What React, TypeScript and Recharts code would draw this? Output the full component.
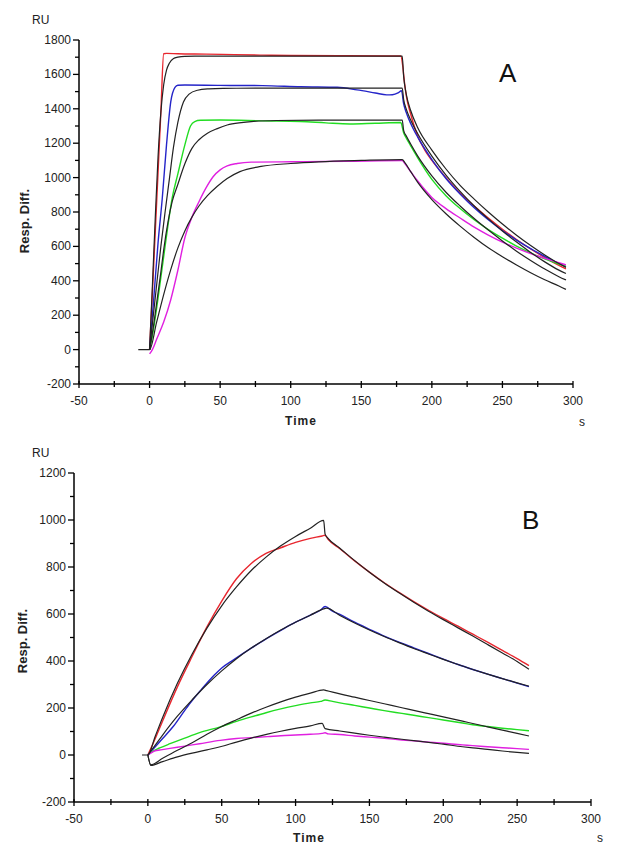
import { LineChart, Line, XAxis, YAxis } from 'recharts';

// panel A: [time s, response RU]
const aRed = [[0, 0], [2, 330], [4, 680], [6, 1030], [8, 1380], [10, 1720], [12, 1722], [20, 1720], [40, 1718], [60, 1715], [80, 1712], [100, 1710], [140, 1708], [178, 1707], [179.5, 1640], [180.5, 1560], [182, 1470], [185, 1370], [190, 1240], [195, 1160], [200, 1100], [210, 1000], [220, 910], [230, 835], [240, 765], [250, 700], [260, 640], [270, 585], [280, 535], [290, 490], [295, 470]];
const aRedFit = [[0, 0], [2, 370], [4, 760], [6, 1120], [8, 1380], [10, 1540], [12, 1625], [14, 1665], [17, 1692], [20, 1700], [25, 1705], [40, 1706], [100, 1706], [179, 1706], [180, 1590], [182, 1480], [185, 1390], [190, 1290], [200, 1160], [210, 1050], [220, 955], [230, 875], [240, 800], [250, 730], [260, 665], [270, 605], [280, 550], [290, 500], [295, 478]];
const aBlue = [[0, 0], [3, 300], [6, 620], [9, 880], [12, 1190], [15, 1440], [18, 1525], [20, 1537], [25, 1538], [50, 1536], [80, 1535], [107, 1528], [133, 1525], [147, 1510], [160, 1492], [168, 1481], [172, 1482], [176, 1492], [178.5, 1505], [180, 1430], [182, 1375], [185, 1315], [190, 1235], [200, 1105], [210, 995], [220, 905], [230, 825], [240, 755], [250, 692], [260, 637], [270, 587], [280, 542], [290, 500], [295, 482]];
const aBlueFit = [[0, 0], [4, 300], [8, 600], [11, 800], [14, 990], [17, 1180], [20, 1320], [24, 1440], [28, 1485], [34, 1508], [42, 1516], [52, 1519], [80, 1520], [179, 1520], [180, 1455], [182, 1395], [185, 1335], [190, 1255], [200, 1125], [210, 1015], [220, 920], [230, 835], [240, 760], [250, 690], [260, 625], [270, 565], [280, 510], [290, 462], [295, 442]];
const aGreen = [[0, 0], [2, 80], [5, 240], [8, 420], [10, 540], [13, 720], [16, 880], [20, 1020], [25, 1190], [29, 1300], [32, 1326], [36, 1333], [50, 1335], [80, 1330], [107, 1326], [125, 1318], [142, 1312], [160, 1316], [178, 1320], [180, 1260], [182, 1228], [185, 1185], [190, 1115], [200, 990], [210, 895], [220, 820], [230, 755], [240, 698], [250, 648], [260, 602], [270, 562], [280, 527], [290, 497], [295, 484]];
const aGreenFit = [[0, 0], [3, 150], [5, 270], [8, 450], [10, 580], [13, 740], [16, 860], [20, 960], [25, 1080], [30, 1170], [35, 1220], [41, 1258], [48, 1285], [55, 1306], [65, 1320], [72, 1326], [90, 1332], [120, 1334], [179, 1335], [180, 1275], [182, 1240], [185, 1195], [190, 1125], [200, 1010], [210, 915], [220, 835], [230, 762], [240, 695], [250, 632], [260, 572], [270, 518], [280, 468], [290, 424], [295, 405]];
const aMagenta = [[0, -25], [2, 0], [5, 60], [10, 160], [15, 290], [20, 460], [25, 650], [30, 770], [35, 860], [40, 940], [45, 1005], [50, 1045], [55, 1068], [62, 1082], [72, 1090], [100, 1092], [140, 1095], [179, 1099], [181, 1080], [185, 1035], [190, 980], [200, 885], [210, 820], [220, 765], [230, 712], [240, 666], [250, 625], [260, 590], [270, 558], [280, 530], [290, 505], [295, 493]];
const aMagentaFit = [[-8, 0], [0, 0], [5, 160], [10, 320], [15, 465], [20, 590], [25, 690], [30, 770], [35, 835], [41, 895], [48, 950], [55, 995], [64, 1035], [79, 1065], [100, 1082], [120, 1092], [150, 1100], [179, 1105], [181, 1085], [185, 1035], [190, 972], [200, 872], [210, 790], [220, 718], [230, 652], [240, 592], [250, 540], [260, 492], [270, 447], [280, 406], [290, 370], [295, 350]];

// panel B
const bRed = [[0, 0], [5, 70], [10, 145], [20, 290], [30, 420], [40, 545], [50, 655], [60, 750], [70, 815], [80, 858], [90, 882], [100, 905], [110, 922], [118, 932], [120, 935], [122, 918], [130, 878], [140, 826], [150, 778], [160, 733], [170, 692], [180, 653], [190, 616], [200, 581], [210, 548], [220, 514], [230, 480], [240, 445], [250, 410], [258, 380]];
const bRedFit = [[-4, 0], [0, 0], [5, 80], [10, 160], [20, 305], [30, 430], [40, 540], [50, 635], [60, 715], [70, 785], [80, 842], [90, 890], [100, 930], [110, 965], [119, 998], [120, 940], [122, 922], [130, 880], [140, 827], [150, 778], [160, 732], [170, 690], [180, 650], [190, 612], [200, 576], [210, 541], [220, 506], [230, 470], [240, 434], [250, 398], [258, 365]];
const bBlue = [[0, 0], [5, 35], [10, 70], [17, 120], [25, 190], [30, 232], [36, 277], [45, 340], [50, 370], [58, 405], [70, 455], [79, 490], [90, 530], [100, 565], [110, 595], [117, 617], [120, 632], [125, 612], [130, 598], [140, 565], [150, 535], [160, 506], [170, 480], [180, 456], [190, 432], [200, 408], [210, 385], [220, 364], [230, 344], [240, 325], [250, 306], [258, 291]];
const bBlueFit = [[0, 0], [5, 42], [10, 85], [20, 165], [30, 235], [40, 300], [50, 358], [60, 410], [70, 455], [80, 495], [90, 532], [100, 565], [110, 595], [119, 622], [121, 625], [130, 594], [140, 562], [150, 532], [160, 504], [170, 478], [180, 453], [190, 430], [200, 407], [210, 385], [220, 364], [230, 344], [240, 325], [250, 307], [258, 293]];
const bGreen = [[0, 0], [3, 15], [8, 30], [15, 48], [25, 72], [35, 95], [49, 120], [60, 143], [70, 162], [80, 180], [90, 196], [100, 210], [110, 222], [117, 228], [120, 234], [125, 228], [130, 222], [140, 211], [150, 200], [160, 189], [172, 177], [180, 169], [190, 159], [200, 149], [213, 136], [220, 129], [230, 121], [240, 114], [250, 108], [258, 103]];
const bGreenFit = [[0, 0], [2, -42], [10, -14], [20, 20], [30, 52], [40, 88], [49, 118], [60, 150], [70, 178], [80, 203], [90, 226], [100, 246], [110, 263], [119, 277], [121, 274], [130, 260], [140, 246], [150, 232], [160, 218], [172, 201], [180, 190], [190, 176], [200, 162], [213, 144], [220, 134], [230, 120], [240, 106], [250, 92], [258, 81]];
const bMagenta = [[0, 0], [2, 8], [5, 18], [8, 21], [15, 28], [25, 38], [35, 48], [49, 62], [60, 70], [70, 74], [81, 78], [90, 82], [100, 85], [110, 88], [118, 92], [120, 95], [122, 90], [130, 87], [140, 81], [150, 76], [160, 71], [172, 64], [180, 60], [190, 55], [200, 50], [213, 43], [220, 40], [230, 35], [240, 31], [250, 27], [258, 24]];
const bMagentaFit = [[0, 0], [2, -44], [10, -28], [20, -8], [30, 8], [40, 22], [49, 35], [60, 55], [70, 72], [81, 89], [90, 101], [100, 113], [110, 124], [118, 135], [120, 112], [130, 102], [140, 93], [150, 84], [160, 76], [172, 67], [180, 61], [190, 54], [200, 46], [213, 35], [220, 30], [230, 24], [240, 17], [250, 11], [258, 7]];

const xTicks = [-50, -25, 0, 25, 50, 75, 100, 125, 150, 175, 200, 225, 250, 275, 300];
const aYTicks = [-200, -100, 0, 100, 200, 300, 400, 500, 600, 700, 800, 900, 1000, 1100, 1200, 1300, 1400, 1500, 1600, 1700, 1800];
const bYTicks = [-200, -100, 0, 100, 200, 300, 400, 500, 600, 700, 800, 900, 1000, 1100, 1200];

const FONT = '"Liberation Sans", Arial, sans-serif';
const RED = '#e8262e';
const BLUE = '#2424c8';
const GREEN = '#22dd22';
const MAGENTA = '#e020e0';
const BLACK = '#222';

const pts = (arr: number[][]) => arr.map(([t, v]) => ({ t, v }));

function XTick({ x, y, payload }: any) {
  const major = payload.value % 50 === 0;
  return (
    <g>
      <line x1={x} x2={x} y1={y - 3} y2={y + (major ? 4 : 3)} stroke="#000" strokeWidth={1.3} />
      {major && (
        <text x={x} y={y + 21} textAnchor="middle" fontSize={12} fill="#222" fontFamily={FONT}>
          {payload.value}
        </text>
      )}
    </g>
  );
}

function YTick({ x, y, payload }: any) {
  const major = payload.value % 200 === 0;
  return (
    <g>
      <line x1={x - (major ? 6 : 4)} x2={x} y1={y} y2={y} stroke="#000" strokeWidth={1.3} />
      {major && (
        <text x={x - 8} y={y + 4} textAnchor="end" fontSize={12} fill="#222" fontFamily={FONT}>
          {payload.value}
        </text>
      )}
    </g>
  );
}

interface PanelProps {
  top: number;
  height: number;
  margin: { top: number; right: number; bottom: number; left: number };
  yDomain: [number, number];
  yTicks: number[];
  series: { data: number[][]; color: string }[];
}

function Panel({ top, height, margin, yDomain, yTicks, series }: PanelProps) {
  return (
    <div style={{ position: 'absolute', left: 0, top }}>
      <LineChart width={619} height={height} margin={margin}>
        <XAxis
          type="number"
          dataKey="t"
          domain={[-50, 300]}
          ticks={xTicks}
          interval={0}
          height={30}
          tickSize={0}
          tickMargin={0}
          tickLine={false}
          tick={<XTick />}
          axisLine={{ stroke: '#000', strokeWidth: 1.5 }}
          allowDataOverflow
        />
        <YAxis
          type="number"
          dataKey="v"
          domain={yDomain}
          ticks={yTicks}
          interval={0}
          width={60}
          tickSize={0}
          tickMargin={0}
          tickLine={false}
          tick={<YTick />}
          axisLine={{ stroke: '#000', strokeWidth: 1.5 }}
          allowDataOverflow
        />
        {series.map((s, i) => (
          <Line
            key={i}
            data={pts(s.data)}
            dataKey="v"
            type="monotone"
            stroke={s.color}
            strokeWidth={s.color === BLACK ? 1.2 : 1.4}
            dot={false}
            activeDot={false}
            isAnimationActive={false}
          />
        ))}
      </LineChart>
    </div>
  );
}

export default function App() {
  const aSeries = [
    { data: aRed, color: RED },
    { data: aBlue, color: BLUE },
    { data: aGreen, color: GREEN },
    { data: aMagenta, color: MAGENTA },
    { data: aRedFit, color: BLACK },
    { data: aBlueFit, color: BLACK },
    { data: aGreenFit, color: BLACK },
    { data: aMagentaFit, color: BLACK },
  ];
  const bSeries = [
    { data: bRed, color: RED },
    { data: bBlue, color: BLUE },
    { data: bGreen, color: GREEN },
    { data: bMagenta, color: MAGENTA },
    { data: bRedFit, color: BLACK },
    { data: bBlueFit, color: BLACK },
    { data: bGreenFit, color: BLACK },
    { data: bMagentaFit, color: BLACK },
  ];

  return (
    <div style={{ position: 'absolute', left: 0, top: 0, width: 619, height: 861, background: '#fff' }}>
      <Panel
        top={0}
        height={430}
        margin={{ top: 40, right: 46, bottom: 16, left: 19 }}
        yDomain={[-200, 1800]}
        yTicks={aYTicks}
        series={aSeries}
      />
      <Panel
        top={430}
        height={431}
        margin={{ top: 43, right: 28, bottom: 29, left: 14 }}
        yDomain={[-200, 1200]}
        yTicks={bYTicks}
        series={bSeries}
      />
      <svg
        width={619}
        height={861}
        style={{ position: 'absolute', left: 0, top: 0, pointerEvents: 'none' }}
        fontFamily={FONT}
      >
        <text x={32} y={24} fontSize={12} fill="#222">RU</text>
        <text transform="translate(29,221) rotate(-90)" textAnchor="middle" fontSize={13} fontWeight="bold" fill="#222">Resp. Diff.</text>
        <text x={301} y={425} textAnchor="middle" fontSize={12} fontWeight="bold" letterSpacing={1} fill="#222">Time</text>
        <text x={579} y={426} fontSize={12} fill="#222">s</text>
        <text x={499} y={82} fontSize={26} fill="#111">A</text>

        <text x={32} y={457} fontSize={12} fill="#222">RU</text>
        <text transform="translate(27,641) rotate(-90)" textAnchor="middle" fontSize={13} fontWeight="bold" fill="#222">Resp. Diff.</text>
        <text x={309} y={842} textAnchor="middle" fontSize={12} fontWeight="bold" letterSpacing={1} fill="#222">Time</text>
        <text x={597} y={842} fontSize={12} fill="#222">s</text>
        <text x={522} y={529} fontSize={26} fill="#111">B</text>
      </svg>
    </div>
  );
}
